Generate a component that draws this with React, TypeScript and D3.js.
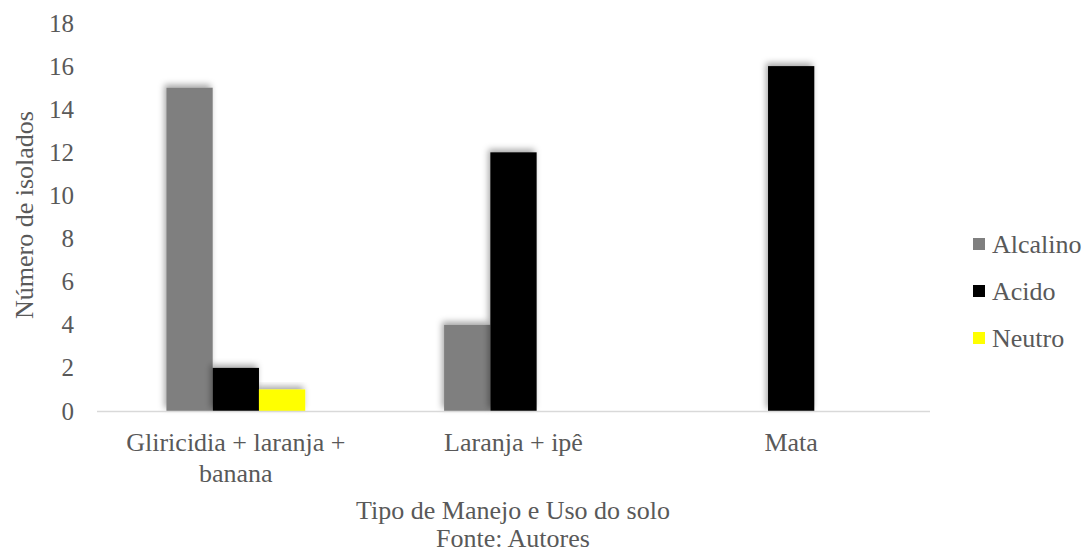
import React from "react";
import * as d3 from "d3";

const categories: string[][] = [
  ["Gliricidia + laranja +", "banana"],
  ["Laranja + ipê"],
  ["Mata"],
];
const seriesNames = ["Alcalino", "Acido", "Neutro"];
const seriesColors = ["#7f7f7f", "#000000", "#ffff00"];
const alcalino = [15, 4, 0];
const acido = [2, 12, 16];
const neutro = [1, 0, 0];
const yTicks = [0, 2, 4, 6, 8, 10, 12, 14, 16, 18];

const W = 1083;
const H = 553;
const FONT = "'Liberation Serif', 'Times New Roman', serif";
const TXT = "#595959";

export default function App() {
  const values = [alcalino, acido, neutro];
  const x = d3.scaleBand<number>().domain([0, 1, 2]).range([97, 930]).padding(0);
  const y = d3.scaleLinear().domain([0, 18]).range([411, 23]);
  const bw = x.bandwidth();
  const inner = d3
    .scaleBand<number>()
    .domain([0, 1, 2])
    .range([bw / 4, (bw * 3) / 4])
    .padding(0);
  const ts: React.CSSProperties = { fontFamily: FONT };

  return (
    <svg
      width={W}
      height={H}
      style={{ position: "absolute", left: 0, top: 0, background: "#fff", fontFamily: FONT }}
    >
      <defs>
        <filter id="sh" x="-30%" y="-30%" width="160%" height="160%">
          <feDropShadow dx="-2" dy="-3" stdDeviation="3" floodColor="#000" floodOpacity="0.35" />
        </filter>
      </defs>
      {yTicks.map((t) => (
        <text
          key={t}
          x={74}
          y={y(t)}
          textAnchor="end"
          dominantBaseline="central"
          fontSize={25}
          fill={TXT}
          style={ts}
        >
          {t}
        </text>
      ))}
      {values.map((vals, si) =>
        vals.map((v, ci) =>
          v > 0 ? (
            <rect
              key={`${si}-${ci}`}
              x={(x(ci) as number) + (inner(si) as number)}
              y={y(v)}
              width={inner.bandwidth()}
              height={y(0) - y(v)}
              fill={seriesColors[si]}
              filter="url(#sh)"
            />
          ) : null
        )
      )}
      <line x1={97} x2={930} y1={411.5} y2={411.5} stroke="#d9d9d9" strokeWidth={1.5} />
      {categories.map((lines, ci) => (
        <text
          key={ci}
          x={(x(ci) as number) + bw / 2}
          y={451}
          textAnchor="middle"
          fontSize={26}
          fill={TXT}
          style={ts}
        >
          {lines.map((l, li) => (
            <tspan key={li} x={(x(ci) as number) + bw / 2} dy={li === 0 ? 0 : 31}>
              {l}
            </tspan>
          ))}
        </text>
      ))}
      <text x={513} y={519} textAnchor="middle" fontSize={26} fill={TXT} style={ts}>
        Tipo de Manejo e Uso do solo
      </text>
      <text x={513} y={547} textAnchor="middle" fontSize={26} fill={TXT} style={ts}>
        Fonte: Autores
      </text>
      <text
        transform={`translate(33,215) rotate(-90)`}
        textAnchor="middle"
        fontSize={26}
        fill={TXT}
        style={ts}
      >
        Número de isolados
      </text>
      {seriesNames.map((n, i) => (
        <g key={n} transform={`translate(973,${244 + i * 47})`}>
          <rect x={0} y={-6} width={12} height={12} fill={seriesColors[i]} />
          <text x={19} y={0} dominantBaseline="central" fontSize={26} fill={TXT} style={ts}>
            {n}
          </text>
        </g>
      ))}
    </svg>
  );
}
